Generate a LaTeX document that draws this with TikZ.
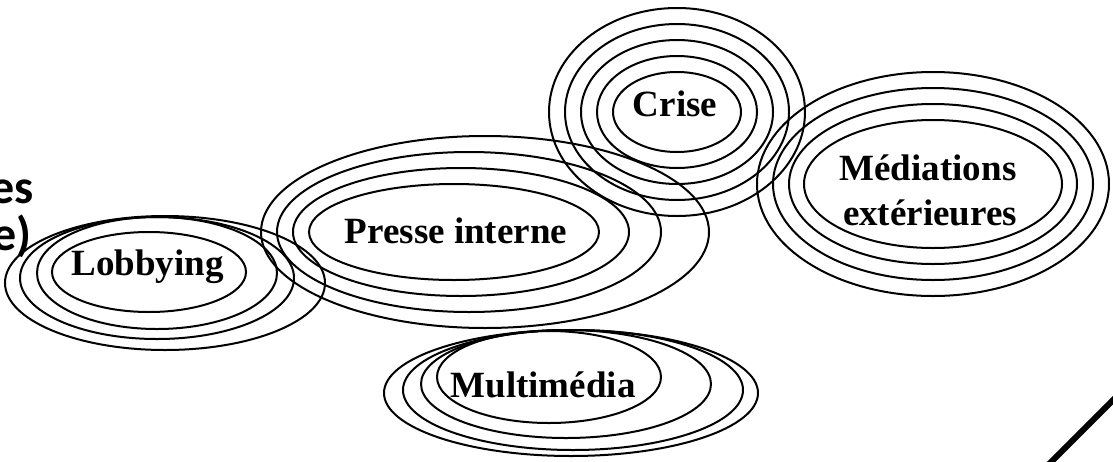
\documentclass[tikz,border=0pt]{standalone}
\usepackage{fontspec}
\setmainfont{Liberation Serif}
\newfontfamily\sidefont{Carlito}
\begin{document}
\begin{tikzpicture}[x=1pt,y=-1pt,
  ring/.style={draw=black,line width=2pt},
  lbl/.style={inner sep=0pt,font=\fontsize{37}{44}\selectfont\bfseries},
  side/.style={inner sep=0pt,font=\sidefont\fontsize{48}{47}\selectfont\bfseries}]
\useasboundingbox (0,0) rectangle (1113,461);
\fill[white] (0,0) rectangle (1113,461);
% Lobbying
\draw[ring] (149,272) ellipse [x radius=97pt, y radius=40pt];
\draw[ring] (157,273) ellipse [x radius=120pt, y radius=56pt];
\draw[ring] (157,278) ellipse [x radius=137pt, y radius=61pt];
\draw[ring] (165,283) ellipse [x radius=160pt, y radius=67pt];
% Presse interne
\draw[ring] (454,232) ellipse [x radius=145pt, y radius=48pt];
\draw[ring] (461,232) ellipse [x radius=168pt, y radius=64pt];
\draw[ring] (469,232) ellipse [x radius=192pt, y radius=80pt];
\draw[ring] (485,232) ellipse [x radius=224pt, y radius=96pt];
% Crise
\draw[ring] (677,112) ellipse [x radius=64pt, y radius=40pt];
\draw[ring] (677,112) ellipse [x radius=80pt, y radius=56pt];
\draw[ring] (677,112) ellipse [x radius=96pt, y radius=72pt];
\draw[ring] (677,112) ellipse [x radius=112pt, y radius=88pt];
\draw[ring] (677,112) ellipse [x radius=128pt, y radius=104pt];
% Mediations exterieures
\draw[ring] (933,184) ellipse [x radius=129pt, y radius=64pt];
\draw[ring] (933,184) ellipse [x radius=144pt, y radius=80pt];
\draw[ring] (933,184) ellipse [x radius=160pt, y radius=96pt];
\draw[ring] (933,184) ellipse [x radius=176pt, y radius=112pt];
% Multimedia
\draw[ring] (549,377) ellipse [x radius=112pt, y radius=46pt];
\draw[ring] (566,384) ellipse [x radius=145pt, y radius=54pt];
\draw[ring] (573,390) ellipse [x radius=170pt, y radius=60pt];
\draw[ring] (571,393) ellipse [x radius=187pt, y radius=63pt];
% labels
\node[lbl,anchor=base] (lob) at (147.5,275) {Lobbying};
\node[lbl,anchor=base] (pre) at (456,243) {Presse interne};
\node[lbl,anchor=base] (cri) at (675,116) {Crise};
\node[lbl,anchor=base] (med1) at (928,180) {Médiations};
\node[lbl,anchor=base] (med2) at (930,225) {extérieures};
\node[lbl,anchor=base] (mul) at (543,397) {Multimédia};
% cut text on the left
\node[side,anchor=base east] (s1) at (34,203) {es};
\node[side,anchor=base east] (s2) at (32,250) {e)};
% diagonal stroke
\coordinate (d1) at (1040,473);
\coordinate (d2) at (1126,387);
\draw[line width=6pt] (d1) -- (d2);
\end{tikzpicture}
\end{document}
